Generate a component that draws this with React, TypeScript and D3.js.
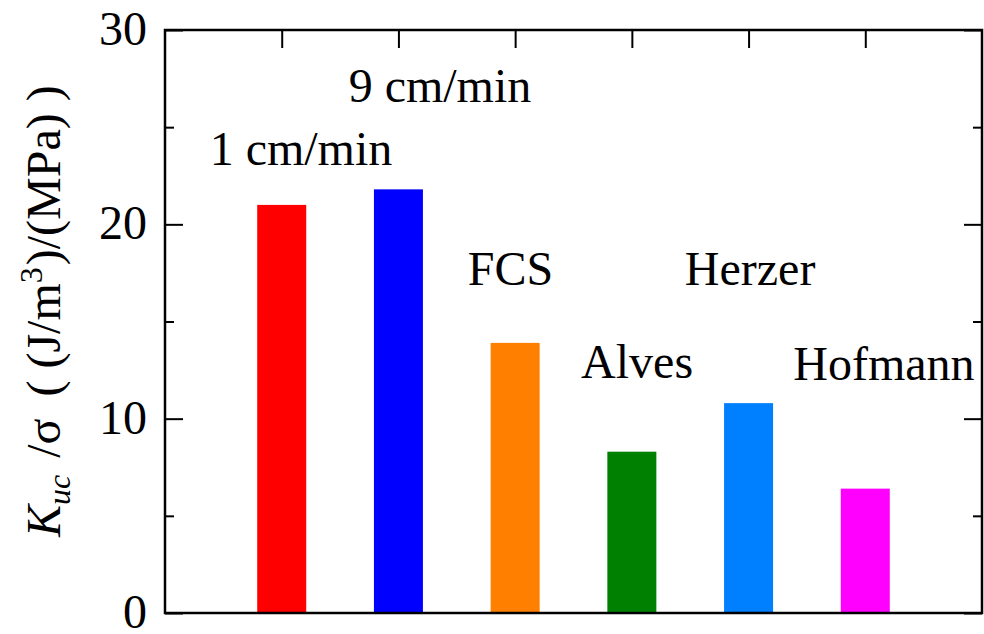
import { useEffect, useRef } from "react";
import * as d3 from "d3";

// bar data
const categories = ["1 cm/min", "9 cm/min", "FCS", "Alves", "Herzer", "Hofmann"];
const values = [21.0, 21.8, 13.9, 8.3, 10.8, 6.4];
const barColors = ["#ff0000", "#0000ff", "#ff8000", "#008000", "#0080ff", "#ff00ff"];

// annotation anchors in data units (x = bar slot, y = value)
const labelX = [1.165, 2.356, 2.96, 4.045, 5.013, 6.16];
const labelY = [23.06, 26.3, 16.88, 12.1, 16.88, 12.0];

const yMajor = [0, 10, 20, 30];
const yMinor = [5, 15, 25];

const FONT = "Liberation Serif";

function BarChart() {
  const ref = useRef<SVGSVGElement>(null);

  const width = 984,
    height = 634;
  const margin = { top: 30, right: 2, bottom: 21, left: 165 };
  const w = width - margin.left - margin.right,
    h = height - margin.top - margin.bottom;

  useEffect(() => {
    if (!ref.current) return;
    const root = d3.select(ref.current);
    root.selectAll("*").remove();

    const svg = root
      .append("g")
      .attr("transform", `translate(${margin.left},${margin.top})`);

    const x = d3.scaleLinear().domain([0, categories.length + 1]).range([0, w]);
    const y = d3.scaleLinear().domain([0, 30]).range([h, 0]);
    const slots = categories.map((_, i) => i + 1);

    // ticks (inward, on all sides)
    const tickStyle = (g: any) => {
      g.attr("font-family", null).attr("font-size", null);
      g.select(".domain").remove();
      g.selectAll(".tick line").attr("stroke", "#000").attr("stroke-width", 2);
    };

    svg
      .append("g")
      .call(d3.axisLeft(y).tickValues(yMajor).tickSize(-18).tickPadding(18).tickFormat(d3.format("d")))
      .call(tickStyle)
      .call((g: any) =>
        g
          .selectAll(".tick text")
          .style("font-family", FONT)
          .style("font-size", "48px")
          .attr("fill", "#000")
          .attr("dy", "0.3em")
      );
    svg
      .append("g")
      .call(d3.axisLeft(y).tickValues(yMinor).tickSize(-9).tickFormat(() => ""))
      .call(tickStyle);
    svg
      .append("g")
      .attr("transform", `translate(${w},0)`)
      .call(d3.axisRight(y).tickValues(yMajor).tickSize(-18).tickFormat(() => ""))
      .call(tickStyle);
    svg
      .append("g")
      .attr("transform", `translate(${w},0)`)
      .call(d3.axisRight(y).tickValues(yMinor).tickSize(-9).tickFormat(() => ""))
      .call(tickStyle);
    svg
      .append("g")
      .call(d3.axisTop(x).tickValues(slots).tickSize(-18).tickFormat(() => ""))
      .call(tickStyle);
    svg
      .append("g")
      .attr("transform", `translate(0,${h})`)
      .call(d3.axisBottom(x).tickValues(slots).tickSize(-18).tickFormat(() => ""))
      .call(tickStyle);

    // bars
    const barW = 49;
    svg
      .append("g")
      .selectAll("rect")
      .data(values)
      .enter()
      .append("rect")
      .attr("x", (_, i) => x(slots[i]) - barW / 2)
      .attr("y", (d) => y(d))
      .attr("width", barW)
      .attr("height", (d) => h - y(d))
      .attr("fill", (_, i) => barColors[i]);

    // frame
    svg
      .append("rect")
      .attr("width", w)
      .attr("height", h)
      .attr("fill", "none")
      .attr("stroke", "#000")
      .attr("stroke-width", 2.5);

    // annotations
    svg
      .append("g")
      .selectAll("text")
      .data(categories)
      .enter()
      .append("text")
      .attr("x", (_, i) => x(labelX[i]))
      .attr("y", (_, i) => y(labelY[i]))
      .attr("text-anchor", "middle")
      .style("font-family", FONT)
      .style("font-size", "48px")
      .attr("fill", "#000")
      .text((d) => d);

    // y title
    const title = root
      .append("text")
      .attr("transform", `translate(60,537) rotate(-90)`)
      .style("font-family", FONT)
      .style("font-size", "48px")
      .style("white-space", "pre")
      .attr("fill", "#000");
    title.append("tspan").style("font-style", "italic").text("K");
    title
      .append("tspan")
      .style("font-style", "italic")
      .style("font-size", "32px")
      .attr("dy", 10)
      .text("uc");
    title.append("tspan").attr("dy", -10).attr("dx", 5).text(" /");
    title.append("tspan").text("σ");
    title.append("tspan").attr("dx", 10).text(" ( (J/m");
    title.append("tspan").style("font-size", "32px").attr("dy", -18).text("3");
    title.append("tspan").attr("dy", 18).attr("dx", 2).text(")/(MPa) )");
  }, []);

  return (
    <svg
      ref={ref}
      width={width}
      height={height}
      style={{ position: "absolute", left: 0, top: 0, background: "#fff", fontFamily: FONT }}
    />
  );
}

export default function App() {
  return <BarChart />;
}
